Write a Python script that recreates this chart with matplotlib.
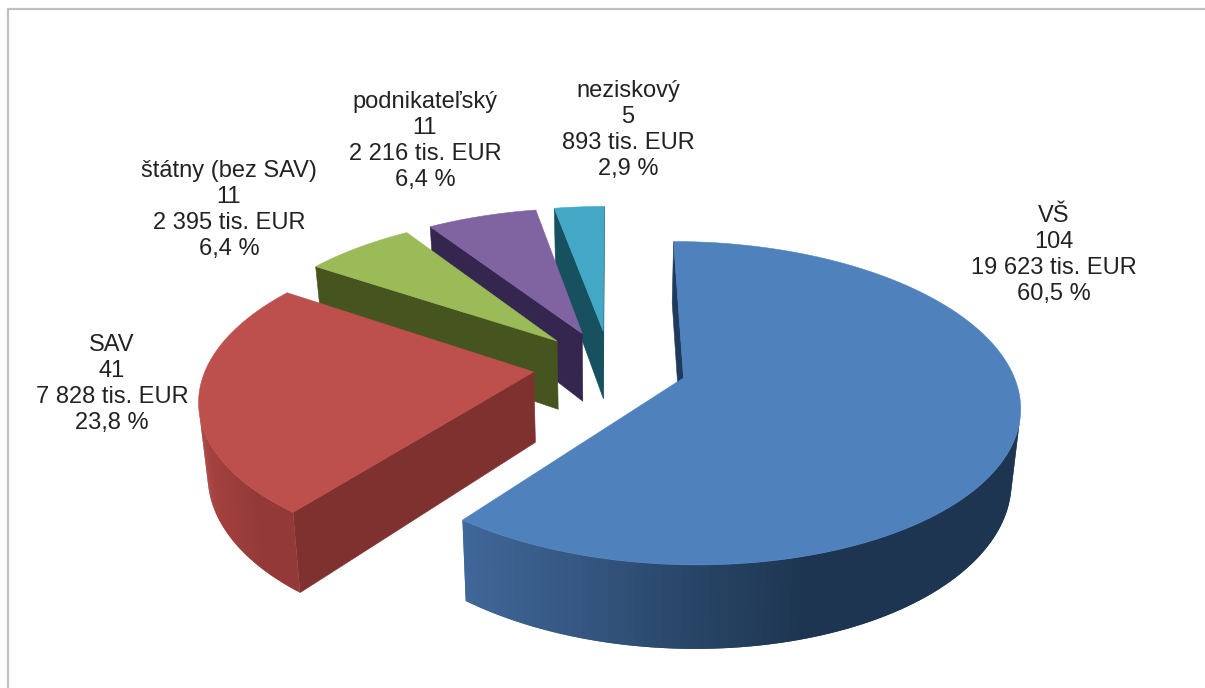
import numpy as np
import matplotlib
matplotlib.use('Agg')
import matplotlib.pyplot as plt
from matplotlib.colors import to_rgb
from matplotlib.patches import Polygon

sectors = ['VŠ', 'SAV', 'štátny (bez SAV)', 'podnikateľský', 'neziskový']
counts = [104, 41, 11, 11, 5]
amounts = ['19 623', '7 828', '2 395', '2 216', '893']
shares = [60.5, 23.8, 6.4, 6.4, 2.9]

top_colors = ['#4f81bd', '#bd4f4c', '#9bbb59', '#8064a2', '#42a8c6']
cut_colors = ['#1f3a5c', '#7f3130', '#46551f', '#35264f', '#17505f']
side_left = ['#41689a', '#a8423f', '#5d7030', '#4a3a66', '#1d6175']
side_right = ['#1d3550', '#933a38', '#46551f', '#35264f', '#17505f']
label_pos = [(1054, 255), (112, 384), (229, 210), (425, 141), (628, 130)]

# perspective of the pie, in figure pixels
CX, CY = 610, 366
RX, RY = 327, 154
PERSP = 0.155
EXPLODE = 0.235
DEPTH = 70


def project(u, v, z=0.0):
    s = 1 + PERSP * v
    x = CX + RX * u / s
    y = CY - RY * v / s + z * DEPTH / s
    x = CX + (x - CX) * (1 - 0.022 * z)
    return x, y


def mix(c1, c2, t):
    c1, c2 = np.array(to_rgb(c1)), np.array(to_rgb(c2))
    return tuple(c1 + (c2 - c1) * t)


def draw_wall(ax, pts, color, zorder):
    ax.add_patch(Polygon(pts, closed=True, facecolor=color, edgecolor=color, lw=0.4, zorder=zorder))


def signed_area(pts):
    p = np.array(pts)
    return 0.5 * np.sum(p[:, 0] * np.roll(p[:, 1], -1) - np.roll(p[:, 0], -1) * p[:, 1])


def draw_slice(ax, start, end, i, zorder):
    mid = (start + end) / 2
    ou, ov = EXPLODE * np.sin(mid), EXPLODE * np.cos(mid)
    theta = np.linspace(start, end, 160)
    u = ou + np.sin(theta)
    v = ov + np.cos(theta)

    # the two cut faces
    for a_u, a_v, sign in [(u[0], v[0], -1), (u[-1], v[-1], 1)]:
        quad = [project(ou, ov), project(a_u, a_v), project(a_u, a_v, 1), project(ou, ov, 1)]
        if signed_area(quad) * sign > 0:
            draw_wall(ax, quad, cut_colors[i], zorder)

    # outer rim, shaded left to right; each strip overlaps the next to hide seams
    xs = project(u, v)[0]
    last = len(theta) - 1
    order = sorted(range(last), key=lambda k: -xs[k])
    for k in order:
        quad = [project(u[k], v[k]), project(u[k + 1], v[k + 1]),
                project(u[k + 1], v[k + 1], 1), project(u[k], v[k], 1)]
        if signed_area(quad) < 0:
            j = min(k + 2, last)
            quad = [project(u[k], v[k]), project(u[j], v[j]), project(u[j], v[j], 1), project(u[k], v[k], 1)]
            t = (xs[k] - xs.min()) / max(xs.max() - xs.min(), 1)
            ax.add_patch(Polygon(quad, closed=True, facecolor=mix(side_left[i], side_right[i], min(t * 1.6, 1)),
                                 edgecolor='none', zorder=zorder + 0.1))

    x, y = project(np.r_[ou, u], np.r_[ov, v])
    draw_wall(ax, np.c_[x, y], top_colors[i], zorder + 0.2)


fig = plt.figure(figsize=(12.05, 6.88), dpi=100)
ax = fig.add_axes([0, 0, 1, 1])
ax.set_xlim(0, 1205)
ax.set_ylim(688, 0)
ax.axis('off')

# chart frame
ax.plot([8, 8, 1205], [688, 9, 9], color='#c0c0c0', lw=1.6, zorder=0)

edges = np.r_[0, np.cumsum(shares)] / 100 * 2 * np.pi
# back slices first
for i in [4, 3, 2, 1, 0]:
    draw_slice(ax, edges[i], edges[i + 1], i, zorder=2 + (4 - i))

for i, name in enumerate(sectors):
    label = f'{name}\n{counts[i]}\n{amounts[i]} tis. EUR\n{str(shares[i]).replace(".", ",")} %'
    ax.text(label_pos[i][0], label_pos[i][1], label, ha='center', va='center', ma='center',
            family='Liberation Sans', fontsize=17, color='#222222', linespacing=1.25, zorder=10)

fig.savefig('out.png', dpi=100)
